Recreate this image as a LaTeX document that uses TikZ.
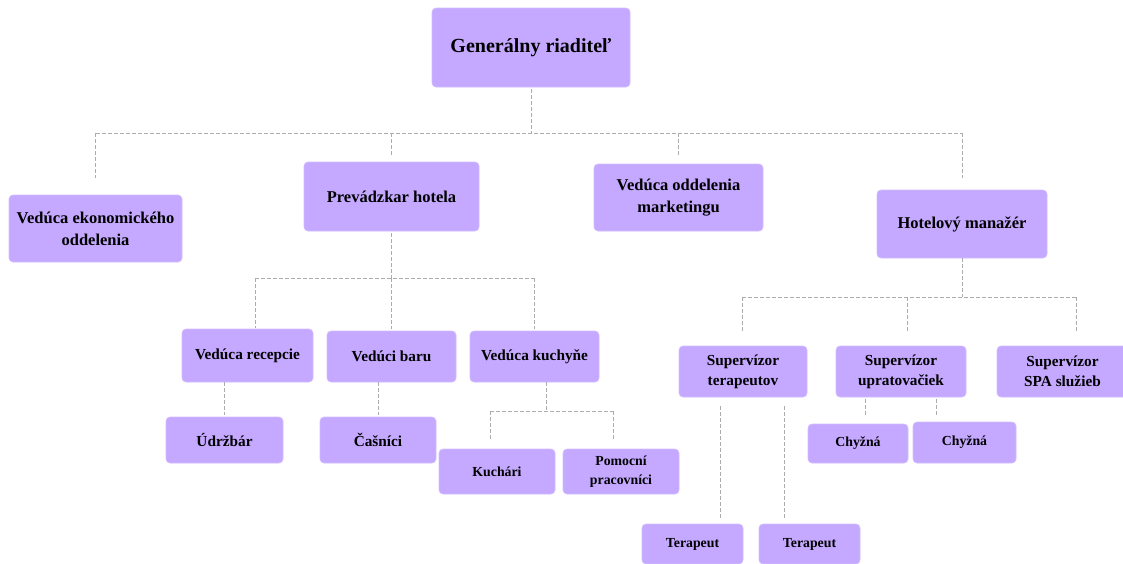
\documentclass[tikz,border=0pt]{standalone}
\usepackage{fontspec}
\setmainfont{Liberation Serif}
\definecolor{boxfill}{RGB}{197,168,255}
\definecolor{boxline}{RGB}{210,190,255}
\definecolor{linegray}{RGB}{172,172,172}
\begin{document}
\begin{tikzpicture}[x=1pt,y=-1pt,
  box/.style={fill=boxfill, draw=boxline, line width=0.6pt, rounded corners=4pt, inner sep=0pt, align=center},
  fA/.style={font=\fontsize{20}{24}\selectfont\bfseries},
  fB/.style={font=\fontsize{16.5}{21.7}\selectfont\bfseries},
  fC/.style={font=\fontsize{15.3}{20}\selectfont\bfseries},
  fD/.style={font=\fontsize{13.8}{19}\selectfont\bfseries},
  conn/.style={draw=linegray, dash pattern=on 4pt off 2pt, line width=0.9pt}]
\useasboundingbox (0,0) rectangle (1123,563);
\clip (0,0) rectangle (1123,563);
\fill[white] (0,0) rectangle (1123,563);

% level 0
\node[box, fA, minimum width=198pt, minimum height=79pt] (gen) at (531,47.5) {Generálny riaditeľ};
% level 1
\node[box, fB, minimum width=173pt, minimum height=67pt] (eko) at (95.5,228.5) {Vedúca ekonomického\\oddelenia};
\node[box, fB, minimum width=175pt, minimum height=69pt] (prev) at (391.5,196.5) {Prevádzkar hotela};
\node[box, fB, minimum width=169pt, minimum height=67pt] (mark) at (678.5,197.5) {Vedúca oddelenia\\marketingu};
\node[box, fB, minimum width=170pt, minimum height=68pt] (hm) at (962,224) {Hotelový manažér};
% level 2 (prevadzkar)
\node[box, fC, minimum width=131pt, minimum height=53pt] (rec) at (247.5,355.5) {Vedúca recepcie};
\node[box, fC, minimum width=129pt, minimum height=51pt] (bar) at (391.5,356.5) {Vedúci baru};
\node[box, fC, minimum width=129pt, minimum height=51pt] (kuch) at (534.5,356.5) {Vedúca kuchyňe};
\node[box, fC, minimum width=117pt, minimum height=46pt] (udr) at (224.5,440) {Údržbár};
\node[box, fC, minimum width=116pt, minimum height=46pt] (cas) at (378,440) {Čašníci};
\node[box, fD, minimum width=116pt, minimum height=45pt] (kuc) at (497,471.5) {Kuchári};
\node[box, fD, minimum width=116pt, minimum height=45pt] (pom) at (621,471.5) {Pomocní\\pracovníci};
% level 2 (hotelovy manazer)
\node[box, fC, minimum width=128pt, minimum height=51pt] (st) at (743,371.5) {Supervízor\\terapeutov};
\node[box, fC, minimum width=130pt, minimum height=51pt] (su) at (901,371.5) {Supervízor\\upratovačiek};
\node[box, fC, minimum width=131pt, minimum height=51pt] (spa) at (1062.5,371.5) {Supervízor\\SPA služieb};
\node[box, fD, minimum width=100pt, minimum height=39pt] (ch1) at (858,443.5) {Chyžná};
\node[box, fD, minimum width=103pt, minimum height=41pt] (ch2) at (964.5,442.5) {Chyžná};
\node[box, fD, minimum width=101pt, minimum height=40pt] (t1) at (692.5,544) {Terapeut};
\node[box, fD, minimum width=101pt, minimum height=40pt] (t2) at (809.5,544) {Terapeut};

% connectors level 0 -> 1
\coordinate (bus0) at (531,133);
\draw[conn, shorten <=2pt] (gen.south) -- (bus0);
\draw[conn] (eko.north |- bus0) -- (hm.north |- bus0);
\draw[conn, shorten >=17pt] (eko.north |- bus0) -- (eko.north);
\draw[conn, shorten >=6pt] (prev.north |- bus0) -- (prev.north);
\draw[conn, shorten >=8pt] (mark.north |- bus0) -- (mark.north);
\draw[conn, shorten >=12pt] (hm.north |- bus0) -- (hm.north);

% prevadzkar
\coordinate (bus1) at (391.5,278);
\coordinate (recin) at ([xshift=7.5pt]rec.north);
\draw[conn, shorten <=2pt] (prev.south) -- (bus1);
\draw[conn] (recin |- bus1) -- (kuch.north |- bus1);
\draw[conn, shorten >=1pt] (recin |- bus1) -- (recin);
\draw[conn, shorten >=2pt] (bus1) -- (bar.north);
\draw[conn, shorten >=2pt] (kuch.north |- bus1) -- (kuch.north);
\draw[conn, shorten >=2pt] (udr.north |- rec.south) -- (udr.north);
\draw[conn, shorten >=2pt] (cas.north |- bar.south) -- (cas.north);

% kuchyna
\coordinate (bus2) at (546,411);
\coordinate (kucin) at ([xshift=-7pt]kuc.north);
\coordinate (pomin) at ([xshift=-8pt]pom.north);
\draw[conn] (kuch.south -| bus2) -- (bus2);
\draw[conn] (kucin |- bus2) -- (pomin |- bus2);
\draw[conn, shorten >=8pt] (kucin |- bus2) -- (kucin);
\draw[conn, shorten >=8pt] (pomin |- bus2) -- (pomin);

% hotelovy manazer
\coordinate (bus3) at (962,297);
\coordinate (stin) at ([xshift=-1pt]st.north);
\coordinate (suin) at ([xshift=6pt]su.north);
\coordinate (spain) at ([xshift=13.5pt]spa.north);
\draw[conn] (hm.south) -- (bus3);
\draw[conn] (stin |- bus3) -- (spain |- bus3);
\draw[conn, shorten >=13pt] (stin |- bus3) -- (stin);
\draw[conn, shorten >=13pt] (suin |- bus3) -- (suin);
\draw[conn, shorten >=13pt] (spain |- bus3) -- (spain);

% upratovacky
\coordinate (ch1in) at ([xshift=7pt]ch1.north);
\coordinate (ch2in) at ([xshift=-28.5pt]ch2.north);
\draw[conn, shorten <=2pt, shorten >=8pt] (ch1in |- su.south) -- (ch1in);
\draw[conn, shorten <=2pt, shorten >=6pt] (ch2in |- su.south) -- (ch2in);

% terapeuti
\coordinate (t1in) at ([xshift=27.5pt]t1.north);
\coordinate (t2in) at ([xshift=-25.5pt]t2.north);
\draw[conn, shorten <=9pt, shorten >=5pt] (t1in |- st.south) -- (t1in);
\draw[conn, shorten <=9pt, shorten >=5pt] (t2in |- st.south) -- (t2in);
\end{tikzpicture}
\end{document}
